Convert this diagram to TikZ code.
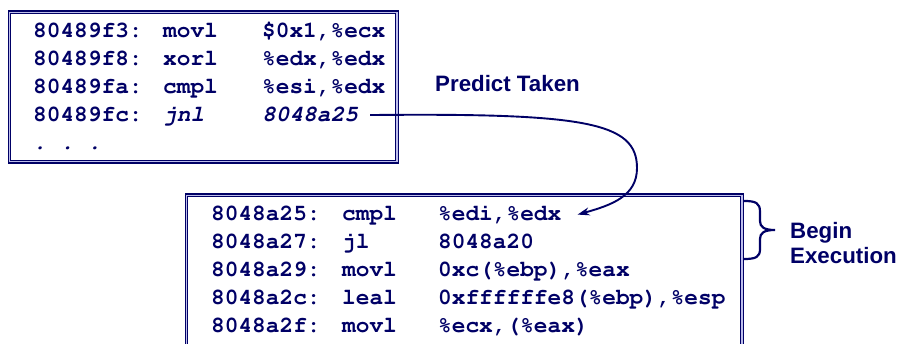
\documentclass[tikz,border=0pt]{standalone}
\usepackage[T1]{fontenc}
\usepackage{fontspec}
\setmainfont{Liberation Sans}
\newcommand\courfont{\fontencoding{T1}\fontfamily{pcr}\selectfont}
\usetikzlibrary{arrows.meta}
\definecolor{navy}{RGB}{0,0,102}
\definecolor{gapblue}{RGB}{190,190,235}
\tikzset{
  codebox/.style={draw=navy, line width=1.1pt, double=gapblue, double distance=1.4pt, rectangle, anchor=north west, inner sep=0pt},
  code/.style={anchor=base west, inner sep=0pt, text=navy, font=\courfont\bfseries\fontsize{22.8}{28}\selectfont},
  icode/.style={code, font=\courfont\bfseries\slshape\fontsize{22.8}{28}\selectfont},
  label/.style={anchor=base west, inner sep=0pt, text=navy, font=\bfseries\fontsize{22.3}{26}\selectfont},
  flow/.style={draw=navy, line width=1.9pt, -{Stealth[length=12pt,width=8pt]}},
  bracestyle/.style={draw=navy, line width=2.2pt, line cap=round}
}
\begin{document}
\begin{tikzpicture}[x=1pt,y=-1pt]
\clip (0,0) rectangle (903,344);
\fill[white] (0,0) rectangle (903,344);
% boxes
\node[codebox, minimum width=387.5pt, minimum height=149.5pt] (box1) at (8.75,11.75) {};
\node[codebox, minimum width=555.5pt, minimum height=180pt] (box2) at (185.75,194.75) {};
% box 1 text
\node[code] (a1) at (33,38) {80489f3:};
\node[code] (o1) at (163,38) {movl};
\node[code] (r1) at (262,38) {\$0x1,\%ecx};
\node[code] (a2) at (33,66) {80489f8:};
\node[code] (o2) at (163,66) {xorl};
\node[code] (r2) at (262,66) {\%edx,\%edx};
\node[code] (a3) at (33,94) {80489fa:};
\node[code] (o3) at (163,94) {cmpl};
\node[code] (r3) at (262,94) {\%esi,\%edx};
\node[code] (a4) at (33,122) {80489fc:};
\node[icode] (o4) at (163,122) {jnl};
\node[icode] (r4) at (262,122) {8048a25};
\node[icode] (dots) at (33,150) {.~.~.};
% box 2 text
\node[code] (b1) at (211,221) {8048a25:};
\node[code] (p1) at (342,221) {cmpl};
\node[code] (s1) at (438,221) {\%edi,\%edx};
\node[code] (b2) at (211,249) {8048a27:};
\node[code] (p2) at (342,249) {jl};
\node[code] (s2) at (438,249) {8048a20};
\node[code] (b3) at (211,277) {8048a29:};
\node[code] (p3) at (342,277) {movl};
\node[code] (s3) at (438,277) {0xc(\%ebp),\%eax};
\node[code] (b4) at (211,305) {8048a2c:};
\node[code] (p4) at (342,305) {leal};
\node[code] (s4) at (438,305) {0xffffffe8(\%ebp),\%esp};
\node[code] (b5) at (211,333) {8048a2f:};
\node[code] (p5) at (342,333) {movl};
\node[code] (s5) at (438,333) {\%ecx,(\%eax)};
% labels
\node[label] (pt) at (435,92) {Predict Taken};
\node[label] (be1) at (790,239) {Begin};
\node[label] (be2) at (790,264) {Execution};
% arrow
\coordinate (st) at ([xshift=12pt]r4.east);
\coordinate (en) at ([xshift=16pt]s1.east);
\draw[flow] (st) .. controls (585,113) and (637,122) .. (637,168)
  .. controls (637,196) and (612,205) .. (en);
% brace
\draw[bracestyle] (744,201) .. controls (756,201) and (760,203) .. (760,212) -- (760,221)
  .. controls (760,227) and (764,230) .. (775,230)
  .. controls (764,230) and (760,233) .. (760,239) -- (760,249)
  .. controls (760,257) and (756,259) .. (744,259);
\end{tikzpicture}
\end{document}
